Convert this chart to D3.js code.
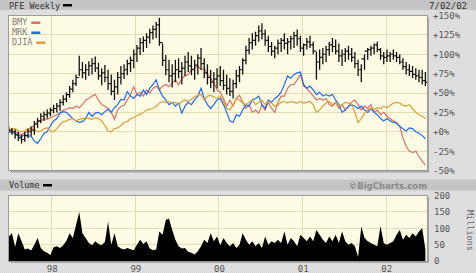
<!DOCTYPE html>
<html>
<head>
<meta charset="utf-8">
<script src="https://cdn.jsdelivr.net/npm/d3@7"></script>
<style>
  body { margin: 0; background: #e2e2e2; }
  svg { display: block; }
  text { font-family: "DejaVu Sans Mono", monospace; }
</style>
</head>
<body>
<div id="chart"></div>
<script>
// two-week samples, % change since the first week
const startDate = new Date(1997, 5, 27);

const pfeHigh = [7,5,3,0,-4,0,4,7,14,18, 24,26,29,31,35,37,42,47,51,59,
  67,74,98,90,87,91,95,97,89,82, 86,80,74,67,77,85,87,93,97,106,
  112,121,123,127,133,137,142,147,114,99, 93,87,93,95,90,98,103,98,93,100,
  108,95,87,80,77,82,85,80,74,69, 67,80,85,95,111,121,127,129,137,140,
  132,124,116,111,119,121,127,121,124,129, 132,124,114,121,124,116,103,106,108,111,
  116,121,119,114,106,108,111,108,103,93, 87,100,108,111,114,116,108,103,106,103,
  106,103,100,95,90,87,85,82,80,80, 77];
const pfeLow = [-2,-4,-9,-12,-15,-13,-8,-5,-4,5, 11,14,17,20,24,25,27,34,38,44,
  51,59,72,69,67,72,74,77,67,60, 64,54,47,41,48,61,68,73,77,82,
  90,99,103,108,114,119,121,111,85,73, 64,57,64,69,61,72,77,73,67,74,
  80,69,61,56,51,56,59,54,48,46, 43,56,64,74,87,100,106,111,116,119,
  111,103,98,95,100,103,106,100,106,108, 111,103,98,106,108,100,67,80,87,90,
  98,103,100,90,85,90,93,90,82,72, 64,80,93,98,100,103,93,87,90,90,
  93,90,87,80,74,72,69,67,64,61, 59];
const pfeClose = [2,0,-4,-8,-10,-5,0,2,10,14, 20,22,24,28,30,33,38,42,48,55,
  62,70,80,76,80,85,88,82,72,76, 70,62,52,58,70,75,80,88,92,100,
  108,115,118,122,128,132,138,115,92,80, 72,75,80,78,82,90,85,80,86,95,
  88,76,70,64,68,72,66,60,56,52, 62,72,80,92,105,115,118,124,130,126,
  118,110,104,108,114,118,114,116,120,124, 120,108,112,116,112,104,90,96,100,106,
  112,110,104,98,100,104,100,96,88,80, 94,104,106,108,112,106,98,96,98,100,
  98,96,90,84,80,78,74,72,70,66, 64];
const bmy = [0,1,0,-2,-4,-1,1,4,9,13, 14,17,16,18,20,22,25,28,29,31,
  30,33,31,35,41,43,46,48,41,35, 33,30,25,16,28,33,34,41,48,58,
  48,51,46,54,50,56,59,54,59,61, 58,63,67,61,69,72,74,80,82,85,
  80,82,74,69,64,54,51,43,33,41, 33,43,47,38,30,35,25,28,24,35,
  28,38,30,25,38,46,46,56,61,61, 67,74,59,56,51,46,41,43,41,43,
  35,33,38,30,35,28,33,38,41,35, 28,33,30,35,25,28,22,25,20,17,
  14,12,7,-8,-19,-25,-27,-25,-32,-38, -43];
const mrk = [0,-1,-2,-5,-6,-4,-5,-6,-12,-15, -9,-2,0,8,14,17,24,26,25,21,
  17,14,12,13,17,25,20,24,25,22, 26,29,25,31,35,42,41,52,46,43,
  48,46,54,48,56,61,67,54,46,41, 35,38,33,37,24,33,38,35,41,46,
  56,43,35,30,35,41,43,35,25,14, 12,22,20,28,35,33,41,43,46,35,
  30,41,38,43,46,51,61,72,69,74, 76,77,61,56,59,54,48,51,46,48,
  46,48,41,35,25,28,33,35,33,30, 33,28,25,30,25,22,17,14,17,14,
  12,11,7,4,1,5,4,0,-2,-5, -9];
const djia = [0,3,4,1,0,1,4,5,3,0, 1,4,5,1,0,4,9,13,14,16,
  17,14,16,17,18,17,16,18,17,14, 8,1,0,4,5,8,12,13,17,18,
  21,22,25,28,29,30,33,37,39,38, 39,37,38,35,39,41,39,42,45,47,
  48,41,46,47,45,43,46,39,30,28, 35,43,41,37,35,38,41,35,38,41,
  35,39,37,33,35,38,39,37,39,38, 37,39,37,38,39,35,25,28,33,37,
  39,35,38,33,35,38,37,35,25,12, 17,24,28,30,29,31,30,33,31,34,
  37,38,37,34,33,35,30,25,22,20, 17];
// millions of shares
const volume = [75,85,43,85,60,35,38,32,50,70, 40,30,25,18,42,45,40,48,62,85,
  70,110,150,85,70,55,48,60,52,48, 58,120,50,85,45,38,35,40,36,33,
  50,65,52,60,38,33,35,90,80,125, 130,95,65,45,38,40,28,25,20,30,
  45,65,55,85,60,75,48,70,55,45, 55,40,50,85,65,50,60,45,55,40,
  75,50,60,55,65,55,90,50,70,60, 45,80,70,60,75,60,95,80,65,55,
  75,60,80,55,90,60,50,55,45,12, 105,70,60,55,50,45,107,55,50,55,
  60,80,95,65,80,70,85,75,90,100, 35];

const pctTicks = [-50, -25, 0, 25, 50, 75, 100, 125, 150];
const volTicks = [0, 50, 100, 150, 200];

const dates = pfeHigh.map((d, i) => d3.timeDay.offset(startDate, i * 14));

const series = [
  { name: "BMY", values: bmy, color: "#da706a" },
  { name: "MRK", values: mrk, color: "#1e6cf4" },
  { name: "DJIA", values: djia, color: "#d9a03c" }
];

const width = 476, height = 273;
const left = 8.5, right = 427;
const top1 = 15.5, bottom1 = 170.5;
const top2 = 195.5, bottom2 = 261;

const svg = d3.select("#chart").append("svg")
  .attr("width", width)
  .attr("height", height);

const defs = svg.append("defs");
function dither(id, a, b) {
  const p = defs.append("pattern").attr("id", id)
    .attr("width", 2).attr("height", 2)
    .attr("patternUnits", "userSpaceOnUse");
  p.append("rect").attr("width", 2).attr("height", 2).attr("fill", a);
  p.append("rect").attr("width", 1).attr("height", 1).attr("fill", b);
  p.append("rect").attr("x", 1).attr("y", 1).attr("width", 1).attr("height", 1).attr("fill", b);
}
dither("bg", "#e6e6e6", "#d6d6d6");
dither("bar", "#cdcdcd", "#bdbdbd");

defs.append("clipPath").attr("id", "clip1")
  .append("rect").attr("x", left).attr("y", top1).attr("width", right - left).attr("height", bottom1 - top1);
defs.append("clipPath").attr("id", "clip2")
  .append("rect").attr("x", left).attr("y", top2).attr("width", right - left).attr("height", bottom2 - top2);

svg.append("rect").attr("width", width).attr("height", height).attr("fill", "url(#bg)");
svg.append("rect").attr("y", 0).attr("width", width).attr("height", 10).attr("fill", "url(#bar)");
svg.append("rect").attr("y", 179.5).attr("width", width).attr("height", 11).attr("fill", "url(#bar)");

const x = d3.scaleTime()
  .domain([new Date(1997, 5, 26), new Date(2002, 5, 28)])
  .range([left, right]);
const y = d3.scaleLinear().domain([-50, 150]).range([bottom1, top1]);
const yv = d3.scaleLinear().domain([0, 200]).range([bottom2, top2]);
const years = d3.timeYear.range(new Date(1998, 0, 1), new Date(2002, 6, 1));

// plot panels with shadow
[[top1, bottom1], [top2, bottom2]].forEach(([t, b]) => {
  svg.append("rect").attr("x", left + 2).attr("y", t + 2)
    .attr("width", right - left).attr("height", b - t).attr("fill", "#a6a6a6");
  svg.append("rect").attr("x", left).attr("y", t)
    .attr("width", right - left).attr("height", b - t).attr("fill", "#fdfbe3");
});

const grid = svg.append("g").attr("stroke", "#e2ddb2").attr("shape-rendering", "crispEdges");
grid.selectAll(".h1").data(pctTicks.slice(1, -1)).join("line")
  .attr("x1", left).attr("x2", right)
  .attr("y1", d => y(d)).attr("y2", d => y(d));
grid.selectAll(".h2").data(volTicks.slice(1, -1)).join("line")
  .attr("x1", left).attr("x2", right)
  .attr("y1", d => yv(d)).attr("y2", d => yv(d));
grid.selectAll(".v1").data(years).join("line")
  .attr("x1", d => x(d)).attr("x2", d => x(d))
  .attr("y1", top1).attr("y2", bottom1);
grid.selectAll(".v2").data(years).join("line")
  .attr("x1", d => x(d)).attr("x2", d => x(d))
  .attr("y1", top2).attr("y2", bottom2);

// comparison lines
const plot = svg.append("g").attr("clip-path", "url(#clip1)");
const line = d3.line()
  .x((d, i) => x(dates[i]))
  .y(d => y(d));
plot.selectAll(".series").data(series).join("path")
  .attr("fill", "none")
  .attr("stroke", d => d.color)
  .attr("stroke-width", 1.2)
  .attr("d", d => line(d.values));

// PFE bars: high-low, open tick (previous close) left, close tick right
const bars = plot.append("g").attr("stroke", "#111");
bars.selectAll(".hl").data(pfeHigh).join("line")
  .attr("x1", (d, i) => x(dates[i])).attr("x2", (d, i) => x(dates[i]))
  .attr("y1", d => y(d))
  .attr("y2", (d, i) => y(pfeLow[i]))
  .attr("stroke-width", 1.3);
bars.selectAll(".cl").data(pfeClose).join("line")
  .attr("x1", (d, i) => x(dates[i])).attr("x2", (d, i) => x(dates[i]) + 1.6)
  .attr("y1", d => y(d)).attr("y2", d => y(d))
  .attr("stroke-width", 1.2);
bars.selectAll(".op").data(pfeClose.slice(0, -1)).join("line")
  .attr("x1", (d, i) => x(dates[i + 1]) - 1.6).attr("x2", (d, i) => x(dates[i + 1]))
  .attr("y1", d => y(d)).attr("y2", d => y(d))
  .attr("stroke-width", 1.2);

// volume
const area = d3.area()
  .x((d, i) => x(dates[i]))
  .y0(bottom2)
  .y1(d => yv(d));
svg.append("path").attr("clip-path", "url(#clip2)")
  .attr("fill", "#000")
  .attr("d", area(volume));

// panel borders
[[top1, bottom1], [top2, bottom2]].forEach(([t, b]) => {
  svg.append("rect").attr("x", left).attr("y", t)
    .attr("width", right - left).attr("height", b - t)
    .attr("fill", "none").attr("stroke", "#9c9c9c").attr("shape-rendering", "crispEdges");
});

// axes
const yAxis = svg.append("g")
  .attr("transform", `translate(${right},0)`)
  .call(d3.axisRight(y).tickValues(pctTicks).tickSize(0).tickPadding(6)
    .tickFormat(d => (d >= 0 ? "+" : "") + d + "%"));
const vAxis = svg.append("g")
  .attr("transform", `translate(${right},0)`)
  .call(d3.axisRight(yv).tickValues(volTicks).tickSize(0).tickPadding(7));
const xAxis = svg.append("g")
  .attr("transform", `translate(0,${bottom2})`)
  .call(d3.axisBottom(x).tickValues(years).tickSize(0).tickPadding(5)
    .tickFormat(d3.timeFormat("%y")));
[yAxis, vAxis, xAxis].forEach(a => {
  a.select(".domain").remove();
  a.selectAll("text").attr("fill", "#555").style("font-size", "9px")
    .style("font-family", '"DejaVu Sans Mono", monospace');
});

svg.append("text")
  .attr("transform", "translate(467,210) rotate(90)")
  .attr("fill", "#666").style("font-size", "8.5px")
  .text("Millions");

// headers
svg.append("text").attr("x", 9).attr("y", 8.5)
  .attr("fill", "#333").style("font-size", "8.5px").text("PFE Weekly");
svg.append("rect").attr("x", 63).attr("y", 4).attr("width", 9).attr("height", 2.5).attr("fill", "#000");
svg.append("text").attr("x", 467).attr("y", 8.5).attr("text-anchor", "end")
  .attr("fill", "#333").style("font-size", "9px").text("7/02/02");

svg.append("text").attr("x", 9).attr("y", 188)
  .attr("fill", "#333").style("font-size", "8.5px").text("Volume");
svg.append("rect").attr("x", 43).attr("y", 184).attr("width", 9).attr("height", 2.5).attr("fill", "#000");
svg.append("text").attr("x", 427).attr("y", 188.5).attr("text-anchor", "end")
  .attr("fill", "#8a8a8a").style("font-size", "8.5px").style("font-weight", "bold")
  .style("font-family", '"DejaVu Sans", sans-serif')
  .text("\u00a9BigCharts.com");

// legend
const legend = svg.append("g").selectAll("g").data(series).join("g")
  .attr("transform", (d, i) => `translate(12,${25 + i * 10})`);
legend.append("text")
  .attr("fill", "#808080").style("font-size", "8.5px")
  .text(d => d.name);
legend.append("rect")
  .attr("x", d => d.name.length * 5.1 + 4)
  .attr("y", -3.5).attr("width", 9).attr("height", 2.5)
  .attr("fill", d => d.color);
</script>
</body>
</html>
